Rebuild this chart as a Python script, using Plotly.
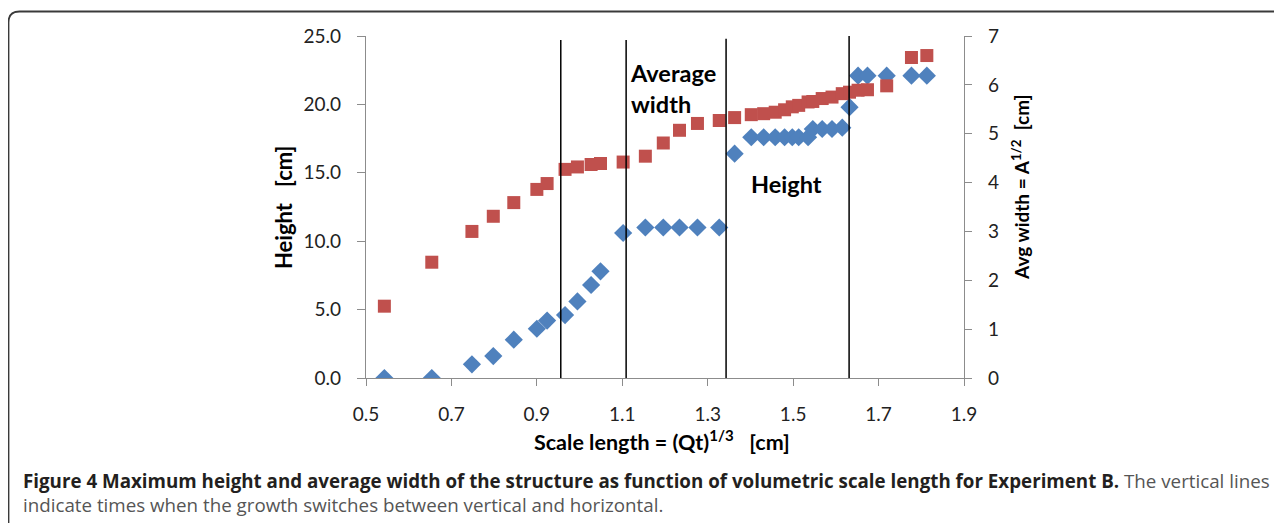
import plotly.graph_objects as go

# ---- data ----
scale_length = [0.543, 0.654, 0.748, 0.798, 0.846, 0.900, 0.924, 0.966, 0.995, 1.027,
                1.049, 1.102, 1.154, 1.196, 1.234, 1.276, 1.327, 1.363, 1.402, 1.431,
                1.458, 1.480, 1.498, 1.513, 1.535, 1.546, 1.568, 1.591, 1.615, 1.632,
                1.652, 1.674, 1.719, 1.777, 1.813]
height_cm = [0, 0, 1.0, 1.6, 2.8, 3.6, 4.2, 4.6, 5.6, 6.8,
             7.8, 10.6, 11.0, 11.0, 11.0, 11.0, 11.0, 16.4, 17.6, 17.6,
             17.6, 17.6, 17.6, 17.6, 17.6, 18.2, 18.2, 18.2, 18.3, 19.8,
             22.1, 22.1, 22.1, 22.1, 22.1]
avg_width_cm = [1.47, 2.37, 3.00, 3.31, 3.59, 3.86, 3.98, 4.27, 4.32, 4.37,
                4.39, 4.42, 4.54, 4.81, 5.07, 5.21, 5.27, 5.33, 5.39, 5.41,
                5.44, 5.49, 5.55, 5.58, 5.65, 5.66, 5.72, 5.75, 5.82, 5.85,
                5.89, 5.90, 5.98, 6.56, 6.60]
switch_times = [0.956, 1.109, 1.343, 1.631]
switch_tops = [24.7, 24.7, 24.8, 25.0]

x_ticks = [0.5, 0.7, 0.9, 1.1, 1.3, 1.5, 1.7, 1.9]
y_ticks = [0, 5, 10, 15, 20, 25]
y2_ticks = [0, 1, 2, 3, 4, 5, 6, 7]

# ---- layout geometry (page pixels; the page body adds an 8px offset) ----
OFF = 8
W, H = 1282 - OFF, 523 - OFF
L, R, T, B = 366 - OFF, 964 - OFF, 36 - OFF, 378 - OFF


def px(xp):
    return (xp - OFF - L) / (R - L)


def py(yp):
    return (B - (yp - OFF)) / (B - T)


FONT = "Lato"
CAP_FONT = "Open Sans"
AXC = "#8c8c8c"

fig = go.Figure()
fig.add_trace(go.Scatter(
    x=scale_length, y=height_cm, mode="markers", name="Height",
    marker=dict(symbol="diamond", size=14, color="#4F81BD"), yaxis="y"))
fig.add_trace(go.Scatter(
    x=scale_length, y=avg_width_cm, mode="markers", name="Average width",
    marker=dict(symbol="square", size=13, color="#C0504D"), yaxis="y2"))

shapes = []
for xv, top in zip(switch_times, switch_tops):
    shapes.append(dict(type="line", xref="x", yref="y", x0=xv, x1=xv, y0=0, y1=top,
                       line=dict(color="black", width=1.5), layer="above"))

# rounded frame around figure + caption
x0b, yt = px(8.5), py(11.5)
xr, yb = px(1300), py(540)
dx, dy = 11 / (R - L), 11 / (B - T)
shapes.append(dict(type="path", xref="paper", yref="paper",
                   path=f"M {x0b},{yb} L {x0b},{yt-dy} Q {x0b},{yt} {x0b+dx},{yt} L {xr},{yt}",
                   line=dict(color="#3a3a3a", width=1.8)))

annotations = [
    dict(text="<b>Average<br>width</b>", x=px(628), y=py(89), xref="paper", yref="paper",
         xanchor="left", yanchor="middle", align="left", showarrow=False,
         font=dict(family=FONT, size=23.5, color="black")),
    dict(text="<b>Height</b>", x=px(749), y=py(184), xref="paper", yref="paper",
         xanchor="left", yanchor="middle", showarrow=False,
         font=dict(family=FONT, size=23.5, color="black")),
    dict(text="<b>Height\u00a0\u00a0\u00a0[cm]</b>", x=px(283), y=py(207), xref="paper", yref="paper",
         textangle=-90, xanchor="center", yanchor="middle", showarrow=False,
         font=dict(family=FONT, size=22, color="black")),
    dict(text="<b>Avg width = A<sup>1/2</sup>\u00a0\u00a0[cm]</b>", x=px(1020), y=py(187),
         xref="paper", yref="paper", textangle=-90, xanchor="center", yanchor="middle",
         showarrow=False, font=dict(family=FONT, size=19, color="black")),
    dict(text="<b>Scale length = (Qt)<sup>1/3</sup>\u00a0\u00a0\u00a0[cm]</b>", x=px(662), y=py(441),
         xref="paper", yref="paper", xanchor="center", yanchor="middle", showarrow=False,
         font=dict(family=FONT, size=21.5, color="black")),
    dict(text="<b>Figure 4 Maximum height and average width of the structure as function of volumetric scale length for Experiment B.</b>"
              " <span style='color:#555555'>The vertical lines</span>",
         x=px(21), y=py(480), xref="paper", yref="paper", xanchor="left", yanchor="middle",
         showarrow=False, font=dict(family=CAP_FONT, size=18.75, color="#231f20")),
    dict(text="indicate times when the growth switches between vertical and horizontal.",
         x=px(21), y=py(504), xref="paper", yref="paper", xanchor="left", yanchor="middle",
         showarrow=False, font=dict(family=CAP_FONT, size=18.75, color="#555555")),
]

fig.update_layout(
    width=W, height=H,
    margin=dict(l=L, r=W - R, t=T, b=H - B, autoexpand=False),
    paper_bgcolor="white", plot_bgcolor="white",
    showlegend=False,
    font=dict(family=FONT, size=19, color="#222222"),
    xaxis=dict(range=[0.5, 1.9], tickvals=x_ticks, tickformat=".1f",
               showgrid=False, zeroline=False, showline=True, linecolor=AXC, linewidth=1.3,
               ticks="outside", ticklen=7, tickwidth=1.3, tickcolor=AXC,
               ticklabelstandoff=12, tickfont=dict(family=FONT, size=19, color="#222222")),
    yaxis=dict(range=[0, 25], tickvals=y_ticks, tickformat=".1f",
               showgrid=False, zeroline=False, showline=True, linecolor=AXC, linewidth=1.3,
               ticks="outside", ticklen=8, tickwidth=1.3, tickcolor=AXC,
               ticklabelstandoff=12, tickfont=dict(family=FONT, size=19, color="#222222")),
    yaxis2=dict(range=[0, 7], tickvals=y2_ticks, overlaying="y", side="right",
                showgrid=False, zeroline=False, showline=True, linecolor=AXC, linewidth=1.3,
                ticks="outside", ticklen=7, tickwidth=1.3, tickcolor=AXC,
                ticklabelstandoff=12, tickfont=dict(family=FONT, size=19, color="#222222")),
    shapes=shapes,
    annotations=annotations,
)

fig.write_html("out.html")
